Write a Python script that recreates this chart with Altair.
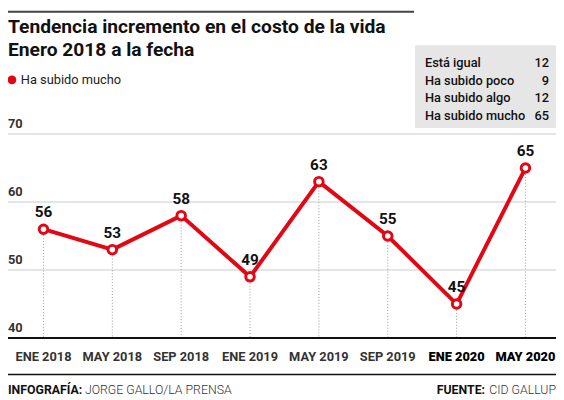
import altair as alt
import pandas as pd

# ---- data ----
periods = ["ENE 2018", "MAY 2018", "SEP 2018", "ENE 2019", "MAY 2019", "SEP 2019", "ENE 2020", "MAY 2020"]
values = [56, 53, 58, 49, 63, 55, 45, 65]
bold_periods = ["ENE 2020", "MAY 2020"]
y_ticks = [40, 50, 60, 70]
table_labels = ["Está igual", "Ha subido poco", "Ha subido algo", "Ha subido mucho"]
table_values = [12, 9, 12, 65]

title_lines = ["Tendencia incremento en el costo de la vida", "Enero 2018 a la fecha"]
series_name = "Ha subido mucho"

RED = "#e30613"
FONT = "Roboto"
W, H = 556, 392

df = pd.DataFrame({"idx": list(range(len(periods))), "period": periods, "value": values})
df["isbold"] = df["period"].isin(bold_periods)

xs = alt.Scale(domain=[-0.5153, 7.4438], range=[0, W], nice=False, zero=False)
ys = alt.Scale(domain=[31.304, 88.116], range=[H, 0], nice=False, zero=False)
X = alt.X("idx:Q", scale=xs, axis=None)
Y = alt.Y("value:Q", scale=ys, axis=None)

tick_df = pd.DataFrame({"value": y_ticks})
grid = alt.Chart(tick_df[tick_df.value > 40]).mark_rule(color="#dcdcdc", strokeWidth=1.5).encode(
    y=Y, x=alt.value(0), x2=alt.value(W))
base_axis = alt.Chart(tick_df[tick_df.value == 40]).mark_rule(color="#111", strokeWidth=2).encode(
    y=Y, x=alt.value(0), x2=alt.value(W))
ylabels = alt.Chart(tick_df).mark_text(align="left", baseline="bottom", dy=-3, font=FONT,
                                       fontSize=13, fontWeight="bold", color="#333").encode(
    y=Y, x=alt.value(0), text=alt.Text("value:Q"))

drop = alt.Chart(df).mark_rule(color="#9a9a9a", strokeWidth=1, strokeDash=[1, 2]).encode(
    x=X, y=Y, y2=alt.datum(40))
line = alt.Chart(df).mark_line(color=RED, strokeWidth=4).encode(x=X, y=Y)
pts = alt.Chart(df).mark_point(filled=True, fill="white", stroke=RED, strokeWidth=3, size=75, opacity=1).encode(
    x=X, y=Y)
labels = alt.Chart(df).mark_text(dy=-17, font=FONT, fontSize=15.5, fontWeight="bold", color="#111").encode(
    x=X, y=Y, text=alt.Text("value:Q"))

xl_norm = alt.Chart(df[~df.isbold]).mark_text(baseline="alphabetic", font=FONT, fontSize=13,
                                              fontWeight="bold", color="#333").encode(
    x=X, y=alt.value(355), text="period:N")
xl_bold = alt.Chart(df[df.isbold]).mark_text(baseline="alphabetic", font=FONT, fontSize=13,
                                             fontWeight=900, color="#000").encode(
    x=X, y=alt.value(355), text="period:N")

one = pd.DataFrame({"a": [0]})
bottom_rule = alt.Chart(one).mark_rule(color="#111", strokeWidth=1.5).encode(
    x=alt.value(0), x2=alt.value(W), y=alt.value(369))
top_rule = alt.Chart(one).mark_rule(color="#444", strokeWidth=2).encode(
    x=alt.value(0), x2=alt.value(412), y=alt.value(1))

title = alt.Chart(pd.DataFrame({"t": title_lines, "yy": [23, 46]})).mark_text(
    align="left", baseline="alphabetic", font=FONT, fontSize=19.5, fontWeight="bold", color="#111").encode(
    x=alt.value(0), y=alt.Y("yy:Q", scale=None), text="t:N")

leg_dot = alt.Chart(one).mark_point(filled=True, color=RED, size=80, opacity=1).encode(
    x=alt.value(4), y=alt.value(70))
leg_txt = alt.Chart(pd.DataFrame({"t": [series_name]})).mark_text(
    align="left", baseline="middle", font=FONT, fontSize=13, color="#222").encode(
    x=alt.value(13), y=alt.value(70), text="t:N")

box = alt.Chart(one).mark_rect(color="#e6e6e6").encode(
    x=alt.value(413), x2=alt.value(W), y=alt.value(35), y2=alt.value(119))
tdf = pd.DataFrame({"lab": table_labels, "val": table_values,
                    "yy": [53 + 18 * i for i in range(len(table_labels))]})
t_lab = alt.Chart(tdf).mark_text(align="left", baseline="middle", font=FONT, fontSize=13,
                                 fontWeight=500, color="#111").encode(
    x=alt.value(423), y=alt.Y("yy:Q", scale=None), text="lab:N")
t_val = alt.Chart(tdf).mark_text(align="right", baseline="middle", font=FONT, fontSize=13,
                                 fontWeight=500, color="#111").encode(
    x=alt.value(549), y=alt.Y("yy:Q", scale=None), text="val:Q")

foot = pd.DataFrame({"t": ["INFOGRAFÍA:", "JORGE GALLO/LA PRENSA", "FUENTE:", "CID GALLUP"]})
f1 = alt.Chart(foot.iloc[[0]]).mark_text(align="left", baseline="alphabetic", font=FONT, fontSize=12.5,
                                         fontWeight="bold", color="#111").encode(
    x=alt.value(0), y=alt.value(389), text="t:N")
f2 = alt.Chart(foot.iloc[[1]]).mark_text(align="left", baseline="alphabetic", font=FONT, fontSize=12.5,
                                         fontWeight=300, color="#333").encode(
    x=alt.value(78), y=alt.value(389), text="t:N")
f3 = alt.Chart(foot.iloc[[2]]).mark_text(align="right", baseline="alphabetic", font=FONT, fontSize=12.5,
                                         fontWeight="bold", color="#111").encode(
    x=alt.value(484), y=alt.value(389), text="t:N")
f4 = alt.Chart(foot.iloc[[3]]).mark_text(align="right", baseline="alphabetic", font=FONT, fontSize=12.5,
                                         fontWeight=300, color="#333").encode(
    x=alt.value(W), y=alt.value(389), text="t:N")

chart = alt.layer(
    grid, drop, base_axis, ylabels, line, pts, labels, xl_norm, xl_bold,
    bottom_rule, top_rule, title, leg_dot, leg_txt, box, t_lab, t_val, f1, f2, f3, f4
).properties(
    width=W, height=H, padding=0, autosize=alt.AutoSizeParams(type="none")
).configure_view(stroke=None)

chart.save("out.html", embed_options={"renderer": "svg", "actions": False})
